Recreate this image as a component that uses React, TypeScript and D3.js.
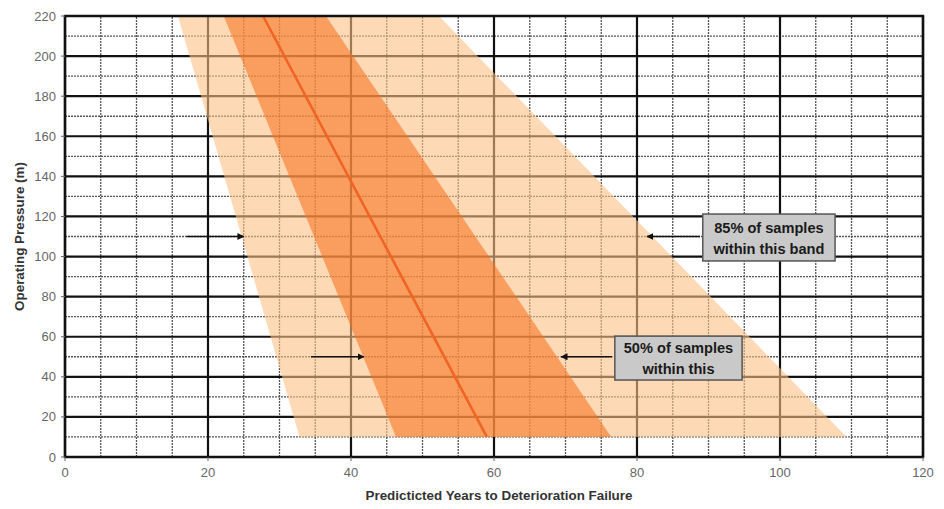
import React, { useRef, useEffect } from 'react';
import * as d3 from 'd3';

// band edges read at the bottom (10 m) and top (220 m) of the bands
const pressure = [10, 220];
const outerLow = [32.8, 15.8];
const outerHigh = [109.3, 52.3];
const innerLow = [46.3, 22.2];
const innerHigh = [76.4, 36.5];
const median = [59, 27.7];

const xTicks = [0, 20, 40, 60, 80, 100, 120];
const yTicks = [0, 20, 40, 60, 80, 100, 120, 140, 160, 180, 200, 220];

// [fromYears, toYears, pressure]
const arrows = [
  [17, 25, 110],
  [34.4, 41.8, 50],
  [88.8, 81.4, 110],
  [76.5, 69.4, 50],
];

// [x0, x1, yTop, yBottom, line1, line2]
const boxes: [number, number, number, number, string, string][] = [
  [89.2, 107.7, 121.2, 97.8, '85% of samples', 'within this band'],
  [76.9, 94.7, 60.3, 38.4, '50% of samples', 'within this'],
];

const W = 944;
const H = 509;
const margin = { left: 65, right: 21, top: 16, bottom: 52 };
const FONT = 'Liberation Sans, Arial, sans-serif';

const App: React.FC = () => {
  const svgRef = useRef<SVGSVGElement>(null);

  useEffect(() => {
    if (!svgRef.current) return;
    const svg = d3.select(svgRef.current);
    svg.selectAll('*').remove();

    const x = d3.scaleLinear().domain([0, 120]).range([margin.left, W - margin.right]);
    const y = d3.scaleLinear().domain([0, 220]).range([H - margin.bottom, margin.top]);

    svg.append('rect').attr('width', W).attr('height', H).attr('fill', '#fff');

    const defs = svg.append('defs');
    defs.append('marker')
      .attr('id', 'head')
      .attr('viewBox', '0 0 10 10')
      .attr('refX', 9).attr('refY', 5)
      .attr('markerWidth', 7).attr('markerHeight', 7)
      .attr('markerUnits', 'userSpaceOnUse')
      .attr('orient', 'auto')
      .append('path').attr('d', 'M0,0L10,5L0,10z').attr('fill', '#111');

    const grid = svg.append('g');
    // minor grid
    grid.selectAll('.vminor')
      .data(d3.range(5, 120, 5).filter(v => v % 20 !== 0))
      .enter().append('line')
      .attr('x1', d => x(d)).attr('x2', d => x(d))
      .attr('y1', y(0)).attr('y2', y(220))
      .attr('stroke', '#555').attr('stroke-width', 1.3).attr('stroke-dasharray', '2,1');
    grid.selectAll('.hminor')
      .data(d3.range(10, 220, 10).filter(v => v % 20 !== 0))
      .enter().append('line')
      .attr('y1', d => y(d)).attr('y2', d => y(d))
      .attr('x1', x(0)).attr('x2', x(120))
      .attr('stroke', '#555').attr('stroke-width', 1.3).attr('stroke-dasharray', '2,1');
    // major grid
    grid.selectAll('.vmajor')
      .data(xTicks)
      .enter().append('line')
      .attr('x1', d => x(d)).attr('x2', d => x(d))
      .attr('y1', y(0)).attr('y2', y(220))
      .attr('stroke', '#111').attr('stroke-width', 2.2);
    grid.selectAll('.hmajor')
      .data(yTicks)
      .enter().append('line')
      .attr('y1', d => y(d)).attr('y2', d => y(d))
      .attr('x1', x(0)).attr('x2', x(120))
      .attr('stroke', '#111').attr('stroke-width', 2.2);

    const band = (lo: number[], hi: number[]) => {
      const pts: [number, number][] = [
        [x(lo[0]), y(pressure[0])],
        [x(lo[1]), y(pressure[1])],
        [x(hi[1]), y(pressure[1])],
        [x(hi[0]), y(pressure[0])],
      ];
      return d3.line()(pts) + 'Z';
    };

    svg.append('path').attr('d', band(outerLow, outerHigh))
      .attr('fill', '#fcc084').attr('opacity', 0.6);
    svg.append('path').attr('d', band(innerLow, innerHigh))
      .attr('fill', '#f6711a').attr('opacity', 0.56);

    svg.append('path')
      .attr('d', d3.line()(pressure.map((p, i) => [x(median[i]), y(p)] as [number, number])))
      .attr('stroke', '#f06424').attr('stroke-width', 2.6).attr('fill', 'none');

    // frame
    svg.append('rect')
      .attr('x', x(0)).attr('y', y(220))
      .attr('width', x(120) - x(0)).attr('height', y(0) - y(220))
      .attr('fill', 'none').attr('stroke', '#111').attr('stroke-width', 2.5);

    // ticks
    const tickColor = '#666';
    svg.selectAll('.ytick').data(yTicks).enter().append('line')
      .attr('x1', x(0) - 4).attr('x2', x(0))
      .attr('y1', d => y(d)).attr('y2', d => y(d))
      .attr('stroke', tickColor).attr('stroke-width', 1);
    svg.selectAll('.xtick').data(xTicks).enter().append('line')
      .attr('x1', d => x(d)).attr('x2', d => x(d))
      .attr('y1', y(0)).attr('y2', y(0) + 4)
      .attr('stroke', tickColor).attr('stroke-width', 1);

    svg.selectAll('.ylab').data(yTicks).enter().append('text')
      .attr('x', x(0) - 9).attr('y', d => y(d))
      .attr('dy', '0.35em').attr('text-anchor', 'end')
      .attr('font-family', FONT)
      .attr('font-size', 13).attr('fill', tickColor)
      .text(d => d);
    svg.selectAll('.xlab').data(xTicks).enter().append('text')
      .attr('x', d => x(d)).attr('y', y(0) + 20)
      .attr('text-anchor', 'middle')
      .attr('font-family', FONT)
      .attr('font-size', 13).attr('fill', tickColor)
      .text(d => d);

    svg.append('text')
      .attr('x', (x(0) + x(120)) / 2 + 5).attr('y', 500)
      .attr('text-anchor', 'middle')
      .attr('font-family', FONT)
      .attr('font-size', 13.4).attr('font-weight', 'bold').attr('fill', '#333')
      .text('Predicticted Years to Deterioration Failure');
    svg.append('text')
      .attr('transform', `translate(24,${(y(0) + y(220)) / 2}) rotate(-90)`)
      .attr('text-anchor', 'middle')
      .attr('font-family', FONT)
      .attr('font-size', 13.4).attr('font-weight', 'bold').attr('fill', '#333')
      .text('Operating Pressure (m)');

    // arrows
    svg.selectAll('.arrow').data(arrows).enter().append('line')
      .attr('x1', d => x(d[0])).attr('x2', d => x(d[1]))
      .attr('y1', d => y(d[2])).attr('y2', d => y(d[2]))
      .attr('stroke', '#111').attr('stroke-width', 1.6)
      .attr('marker-end', 'url(#head)');

    // annotation boxes
    const bg = svg.selectAll('.box').data(boxes).enter().append('g');
    bg.append('rect')
      .attr('x', d => x(d[0])).attr('y', d => y(d[2]))
      .attr('width', d => x(d[1]) - x(d[0])).attr('height', d => y(d[3]) - y(d[2]))
      .attr('fill', '#c9c9c9').attr('stroke', '#555').attr('stroke-width', 1.5);
    bg.append('text')
      .attr('x', d => (x(d[0]) + x(d[1])) / 2)
      .attr('y', d => (y(d[2]) + y(d[3])) / 2 - 5)
      .attr('text-anchor', 'middle')
      .attr('font-family', FONT)
      .attr('font-size', 14.6).attr('font-weight', 'bold').attr('fill', '#1a1a1a')
      .text(d => d[4]);
    bg.append('text')
      .attr('x', d => (x(d[0]) + x(d[1])) / 2)
      .attr('y', d => (y(d[2]) + y(d[3])) / 2 + 16)
      .attr('text-anchor', 'middle')
      .attr('font-family', FONT)
      .attr('font-size', 14.6).attr('font-weight', 'bold').attr('fill', '#1a1a1a')
      .text(d => d[5]);
  }, []);

  return (
    <svg
      ref={svgRef}
      width={W}
      height={H}
      style={{ position: 'absolute', left: 0, top: 0, display: 'block' }}
    ></svg>
  );
};

export default App;
